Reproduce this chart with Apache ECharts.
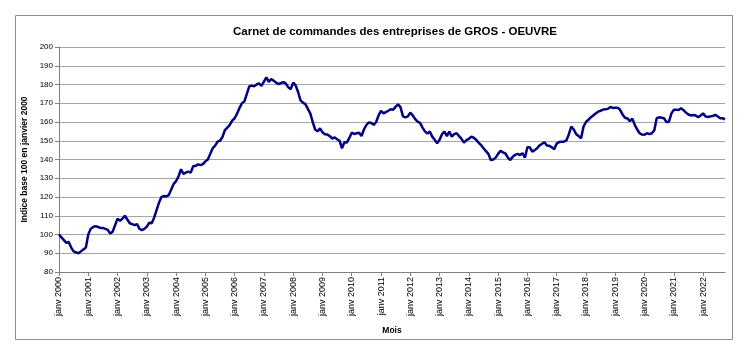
<!DOCTYPE html>
<html>
<head>
<meta charset="utf-8">
<script src="https://cdn.jsdelivr.net/npm/echarts@6/dist/echarts.min.js"></script>
<style>
html,body{margin:0;padding:0;background:#fff;}
#c{width:747px;height:360px;}
</style>
</head>
<body>
<div id="c"></div>
<script>
const monthNames = ['janv','févr','mars','avr','mai','juin','juil','août','sept','oct','nov','déc'];
const years = [2000,2001,2002,2003,2004,2005,2006,2007,2008,2009,2010,2011,2012,2013,2014,2015,2016,2017,2018,2019,2020,2021,2022];
const values2000 = [100, 98.5, 97, 95.5, 96, 93, 91, 90.5, 90, 91, 92, 93];
const values2001 = [100, 103, 104, 104.5, 104, 103.5, 103.5, 103, 102.5, 100.5, 101.5, 105];
const values2002 = [108.5, 107.3, 108.5, 110, 108, 106, 105.5, 105, 105.5, 103, 102.3, 103];
const values2003 = [104.2, 106.3, 106, 109, 113, 117, 120, 120.5, 120.3, 121, 124, 127];
const values2004 = [128.5, 131, 134.8, 132.3, 133, 133.5, 133, 136.5, 136.5, 137.4, 137, 137.5];
const values2005 = [139, 140, 143, 146, 147.4, 149.5, 150, 152, 155.7, 157, 158.5, 160.7];
const values2006 = [162, 164.5, 167.5, 170, 171, 175, 179, 179.4, 179, 180, 180.6, 179.2];
const values2007 = [181.5, 183.8, 181.4, 182.9, 182, 181, 180.2, 180.8, 181.3, 180.5, 178.5, 177.5];
const values2008 = [181, 179.5, 176, 171.5, 170.3, 169.5, 167, 164.6, 160, 156, 155, 156.6];
const values2009 = [154.5, 153.5, 153.3, 152.5, 151.2, 151.8, 150.8, 150, 146, 149.2, 149, 151.5];
const values2010 = [154.3, 153.6, 154, 154.3, 152.5, 156, 158.4, 159.8, 159.5, 158.5, 160, 163.5];
const values2011 = [166, 164.6, 165.3, 166, 166.8, 166.5, 168.2, 169.4, 167.8, 163, 162.5, 163];
const values2012 = [165, 163.5, 161.5, 160.2, 159.5, 157, 155, 153.8, 154.9, 152.2, 150.5, 148.6];
const values2013 = [150.5, 153.5, 154.9, 152.5, 154.9, 152.2, 153.5, 154, 152.5, 151, 149, 150.3];
const values2014 = [151, 152.2, 151.6, 150.5, 149, 147.7, 146, 144.5, 143, 139.7, 140, 141];
const values2015 = [143, 144.7, 143.8, 143.2, 141, 139.7, 141.5, 142.5, 143, 142.4, 143.4, 141];
const values2016 = [146.5, 146.5, 144.2, 145, 146, 147.5, 148.4, 149.2, 147.5, 147.3, 146.5, 145.5];
const values2017 = [148.5, 149.3, 149.5, 149.5, 150.2, 153.5, 157.5, 156, 153.5, 152.5, 151.3, 157.5];
const values2018 = [160, 161.2, 162.5, 163.5, 164.5, 165.5, 166, 166.6, 166.8, 167, 168, 167.5];
const values2019 = [167.6, 167.6, 166.5, 164, 162.3, 161.9, 160.5, 161.8, 158.5, 156, 154, 153.3];
const values2020 = [153.2, 154, 153.5, 154, 155.5, 162, 162.5, 162.3, 162, 160, 160, 164.5];
const values2021 = [166.5, 166.6, 166.4, 167.3, 166.3, 165, 164, 163.5, 163.7, 163.5, 162.5, 163.5];
const values2022 = [164.6, 163, 162.7, 163, 163.2, 163.8, 163, 162, 162, 161.4];

const yearValues = [values2000, values2001, values2002, values2003, values2004, values2005, values2006, values2007, values2008, values2009, values2010, values2011, values2012, values2013, values2014, values2015, values2016, values2017, values2018, values2019, values2020, values2021, values2022];

const categories = [];
const seriesData = [];
yearValues.forEach((arr, yi) => {
  arr.forEach((v, mi) => {
    categories.push(monthNames[mi] + ' ' + years[yi]);
    seriesData.push(v);
  });
});

const chart = echarts.init(document.getElementById('c'), null, {renderer: 'canvas'});
const F = '"Liberation Sans", Arial, sans-serif';
chart.setOption({
  animation: false,
  backgroundColor: '#fff',
  title: {
    text: 'Carnet de commandes des entreprises de GROS - OEUVRE',
    left: 390, top: 21, textAlign: 'center',
    textStyle: {fontFamily: F, fontSize: 11.5, fontWeight: 'bold', color: '#000'}
  },
  graphic: [{
    type: 'rect', shape: {x: 15.5, y: 15.5, width: 717, height: 324},
    style: {fill: 'none', stroke: '#8c8c8c', lineWidth: 1}, silent: true
  }],
  grid: {left: 59, right: 22, top: 47, bottom: 88, containLabel: false},
  xAxis: {
    type: 'category',
    data: categories,
    boundaryGap: false,
    name: 'Mois',
    nameLocation: 'middle',
    nameGap: 54,
    nameTextStyle: {fontFamily: F, fontSize: 8.5, fontWeight: 'bold', color: '#000'},
    axisLine: {lineStyle: {color: '#808080', width: 1}},
    axisTick: {show: true, length: 4, interval: (i) => i % 12 === 0, lineStyle: {color: '#808080'}},
    axisLabel: {
      interval: (i) => i % 12 === 0,
      rotate: 90, margin: 5,
      fontFamily: F, fontSize: 9, color: '#000'
    },
    splitLine: {show: false}
  },
  yAxis: {
    type: 'value',
    min: 80, max: 200, interval: 10,
    name: 'Indice base 100 en janvier 2000',
    nameLocation: 'middle',
    nameGap: 25,
    nameTextStyle: {fontFamily: F, fontSize: 8.5, fontWeight: 'bold', color: '#000'},
    axisLine: {show: true, lineStyle: {color: '#808080', width: 1}},
    axisTick: {show: true, length: 4, lineStyle: {color: '#808080'}},
    axisLabel: {fontFamily: F, fontSize: 8, color: '#000', margin: 6},
    splitLine: {lineStyle: {color: '#a6a6a6', width: 1}}
  },
  series: [{
    type: 'line',
    data: seriesData,
    symbol: 'none',
    lineStyle: {color: '#000080', width: 2.5},
    itemStyle: {color: '#000080'}
  }]
});
</script>
</body>
</html>
